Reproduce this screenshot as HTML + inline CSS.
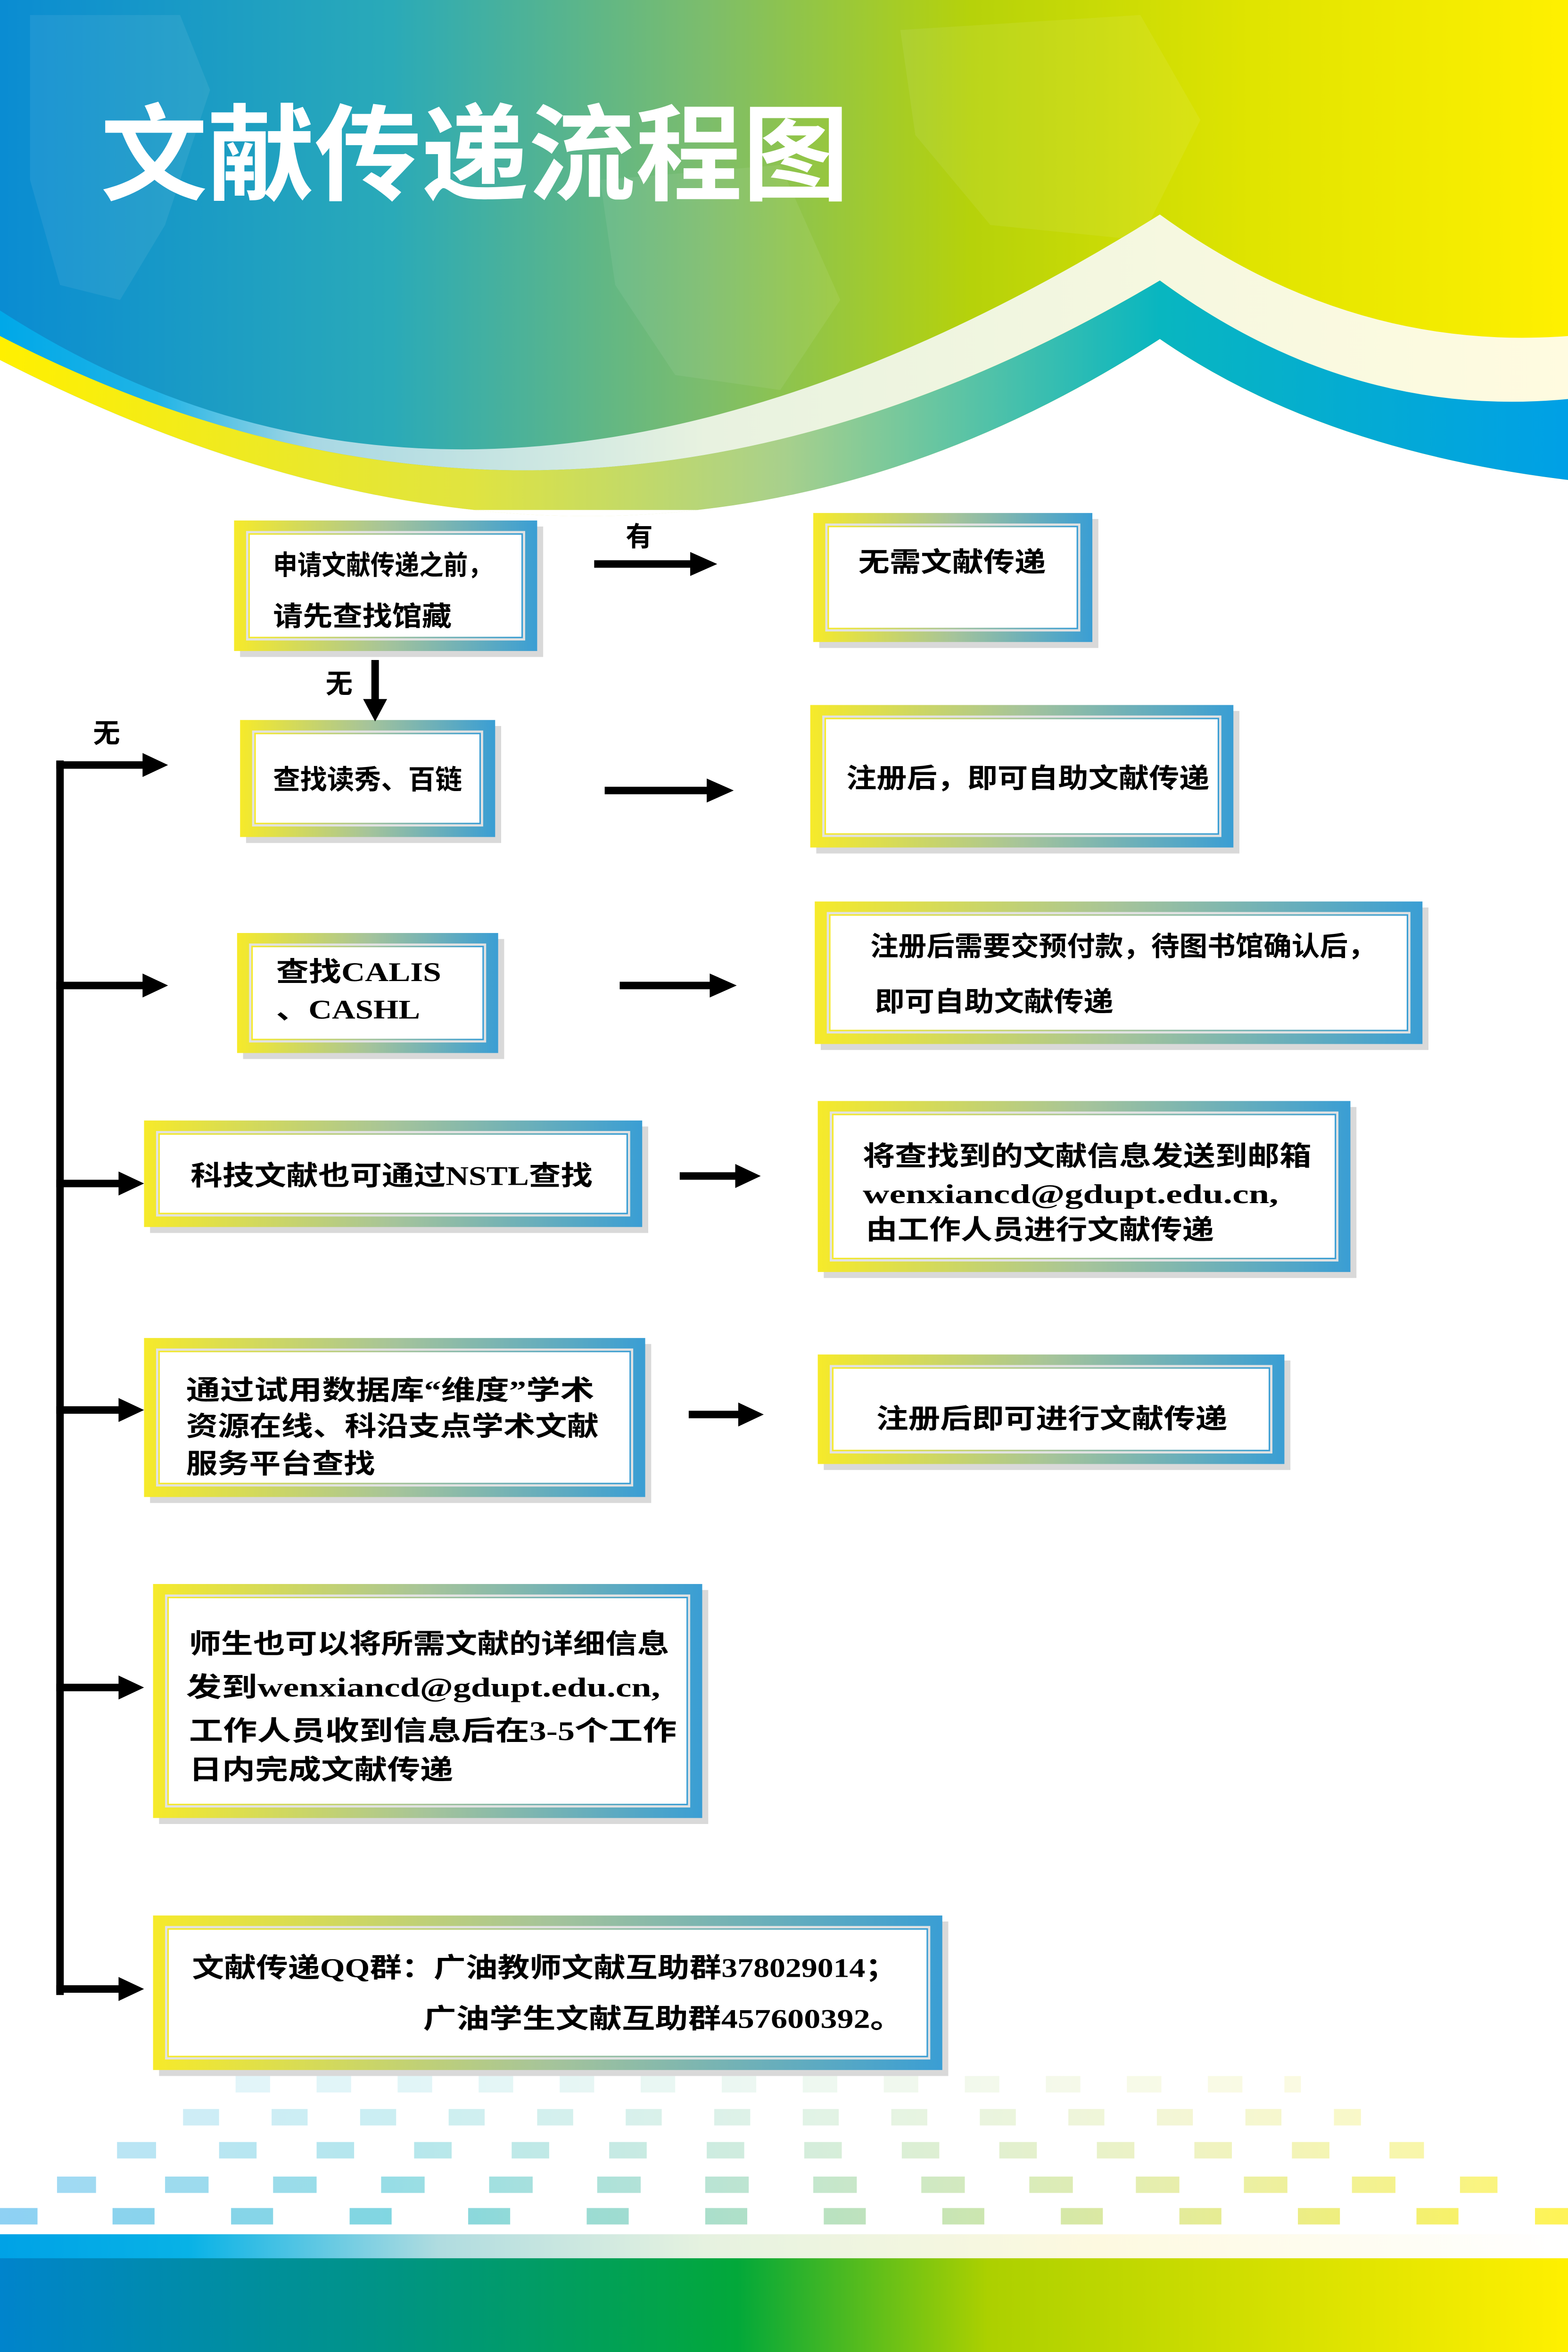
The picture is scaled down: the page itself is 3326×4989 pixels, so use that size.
<!DOCTYPE html>
<html><head><meta charset="utf-8"><style>
html,body{margin:0;padding:0;background:#fff;}
svg{display:block;}
text{font-family:"Liberation Serif","Noto Sans CJK SC",serif;font-weight:bold;fill:#000;}
</style></head><body>
<svg width="3326" height="4989" viewBox="0 0 1045 1568" preserveAspectRatio="none" xmlns="http://www.w3.org/2000/svg">
<defs>
<linearGradient id="hd" x1="0" y1="0" x2="1" y2="0">
<stop offset="0" stop-color="#0a8cd2"/><stop offset="0.25" stop-color="#2aaab8"/><stop offset="0.45" stop-color="#7cbd6c"/><stop offset="0.62" stop-color="#b6d20a"/><stop offset="0.8" stop-color="#e0e400"/><stop offset="1" stop-color="#fff000"/>
</linearGradient>
<linearGradient id="band1" x1="0" y1="0" x2="1" y2="0">
<stop offset="0" stop-color="#00a8e8"/><stop offset="0.1" stop-color="#20b4e6"/><stop offset="0.2" stop-color="#a8d8e4"/><stop offset="0.45" stop-color="#e8f2e0"/><stop offset="0.75" stop-color="#f6f8e0"/><stop offset="1" stop-color="#fffbe0"/>
</linearGradient>
<linearGradient id="band2" x1="0" y1="0" x2="1" y2="0">
<stop offset="0" stop-color="#fff000"/><stop offset="0.3" stop-color="#e0e440"/><stop offset="0.5" stop-color="#a8d08c"/><stop offset="0.74" stop-color="#08b6c0"/><stop offset="1" stop-color="#00a0e6"/>
</linearGradient>
<linearGradient id="fr" x1="0" y1="0" x2="1" y2="0">
<stop offset="0" stop-color="#f6ea2a"/><stop offset="0.5" stop-color="#a6c49a"/><stop offset="1" stop-color="#3a9ed4"/>
</linearGradient>
<linearGradient id="sq" x1="0" y1="0" x2="1" y2="0">
<stop offset="0" stop-color="#7ccaf2"/><stop offset="0.25" stop-color="#6cd0dc"/><stop offset="0.5" stop-color="#a8dcbc"/><stop offset="0.75" stop-color="#dfe88a"/><stop offset="1" stop-color="#fff23a"/>
</linearGradient>
<linearGradient id="lt" x1="0" y1="0" x2="1" y2="0">
<stop offset="0" stop-color="#00a2e6"/><stop offset="0.12" stop-color="#08b2e6"/><stop offset="0.28" stop-color="#b0dce0"/><stop offset="0.45" stop-color="#e6f2e0"/><stop offset="0.7" stop-color="#fdf9e0"/><stop offset="1" stop-color="#ffffff"/>
</linearGradient>
<linearGradient id="dk" x1="0" y1="0" x2="1" y2="0">
<stop offset="0" stop-color="#0084cc"/><stop offset="0.25" stop-color="#009484"/><stop offset="0.47" stop-color="#02a83a"/><stop offset="0.63" stop-color="#acd000"/><stop offset="1" stop-color="#fff000"/>
</linearGradient>
</defs>

<!-- header -->
<rect x="0" y="0" width="1045" height="330" fill="url(#hd)"/>
<g fill="#ffffff" opacity="0.07">
<path d="M20,10 L120,10 L140,60 L110,150 L80,200 L40,190 L20,120Z"/>
<path d="M400,120 L520,110 L560,200 L520,260 L450,250 L410,190Z"/>
<path d="M600,20 L760,10 L800,80 L760,160 L660,150 L610,90Z"/>
</g>
<!-- bands -->
<path d="M0,207 Q330,420 773,143 Q900,235 1045,224 L1045,270 Q900,280 773,187 Q380,420 0,224Z" fill="url(#band1)"/>
<path d="M0,224 Q380,420 773,187 Q900,280 1045,266 L1045,320 Q880,300 773,226 Q420,455 0,240Z" fill="url(#band2)"/>
<path d="M0,240 Q420,455 773,226 Q880,300 1045,320 L1045,340 L0,340Z" fill="#fff"/>
<text x="67" y="128" font-size="70" textLength="499" lengthAdjust="spacingAndGlyphs" style="fill:#fff;font-family:'Liberation Sans','Noto Sans CJK SC',sans-serif">文献传递流程图</text>

<!-- boxes -->
<g id="boxes">
<rect x="160" y="351" width="202" height="87" fill="#d9d9d9"/><rect x="156" y="347" width="202" height="87" fill="url(#fr)"/><rect x="164" y="354" width="186" height="73" fill="#e2e2e2"/><rect x="166" y="356" width="182" height="69" fill="#fff" stroke="url(#fr)" stroke-width="1"/>
<rect x="546" y="346" width="186" height="86" fill="#d9d9d9"/><rect x="542" y="342" width="186" height="86" fill="url(#fr)"/><rect x="550" y="349" width="170" height="72" fill="#e2e2e2"/><rect x="552" y="351" width="166" height="68" fill="#fff" stroke="url(#fr)" stroke-width="1"/>
<rect x="164" y="484" width="170" height="78" fill="#d9d9d9"/><rect x="160" y="480" width="170" height="78" fill="url(#fr)"/><rect x="168" y="487" width="154" height="64" fill="#e2e2e2"/><rect x="170" y="489" width="150" height="60" fill="#fff" stroke="url(#fr)" stroke-width="1"/>
<rect x="544" y="474" width="282" height="95" fill="#d9d9d9"/><rect x="540" y="470" width="282" height="95" fill="url(#fr)"/><rect x="548" y="477" width="266" height="81" fill="#e2e2e2"/><rect x="550" y="479" width="262" height="77" fill="#fff" stroke="url(#fr)" stroke-width="1"/>
<rect x="162" y="626" width="174" height="80" fill="#d9d9d9"/><rect x="158" y="622" width="174" height="80" fill="url(#fr)"/><rect x="166" y="629" width="158" height="66" fill="#e2e2e2"/><rect x="168" y="631" width="154" height="62" fill="#fff" stroke="url(#fr)" stroke-width="1"/>
<rect x="547" y="605" width="405" height="95" fill="#d9d9d9"/><rect x="543" y="601" width="405" height="95" fill="url(#fr)"/><rect x="551" y="608" width="389" height="81" fill="#e2e2e2"/><rect x="553" y="610" width="385" height="77" fill="#fff" stroke="url(#fr)" stroke-width="1"/>
<rect x="100" y="751" width="332" height="71" fill="#d9d9d9"/><rect x="96" y="747" width="332" height="71" fill="url(#fr)"/><rect x="104" y="754" width="316" height="57" fill="#e2e2e2"/><rect x="106" y="756" width="312" height="53" fill="#fff" stroke="url(#fr)" stroke-width="1"/>
<rect x="549" y="738" width="355" height="114" fill="#d9d9d9"/><rect x="545" y="734" width="355" height="114" fill="url(#fr)"/><rect x="553" y="741" width="339" height="100" fill="#e2e2e2"/><rect x="555" y="743" width="335" height="96" fill="#fff" stroke="url(#fr)" stroke-width="1"/>
<rect x="100" y="896" width="334" height="106" fill="#d9d9d9"/><rect x="96" y="892" width="334" height="106" fill="url(#fr)"/><rect x="104" y="899" width="318" height="92" fill="#e2e2e2"/><rect x="106" y="901" width="314" height="88" fill="#fff" stroke="url(#fr)" stroke-width="1"/>
<rect x="549" y="907" width="311" height="73" fill="#d9d9d9"/><rect x="545" y="903" width="311" height="73" fill="url(#fr)"/><rect x="553" y="910" width="295" height="59" fill="#e2e2e2"/><rect x="555" y="912" width="291" height="55" fill="#fff" stroke="url(#fr)" stroke-width="1"/>
<rect x="106" y="1060" width="366" height="156" fill="#d9d9d9"/><rect x="102" y="1056" width="366" height="156" fill="url(#fr)"/><rect x="110" y="1063" width="350" height="142" fill="#e2e2e2"/><rect x="112" y="1065" width="346" height="138" fill="#fff" stroke="url(#fr)" stroke-width="1"/>
<rect x="106" y="1281" width="526" height="103" fill="#d9d9d9"/><rect x="102" y="1277" width="526" height="103" fill="url(#fr)"/><rect x="110" y="1284" width="510" height="89" fill="#e2e2e2"/><rect x="112" y="1286" width="506" height="85" fill="#fff" stroke="url(#fr)" stroke-width="1"/>
</g>

<!-- texts -->
<g font-size="18">
<text x="182" y="383" textLength="146" lengthAdjust="spacingAndGlyphs">申请文献传递之前，</text>
<text x="182" y="417" textLength="119" lengthAdjust="spacingAndGlyphs">请先查找馆藏</text>
<text x="572" y="381" textLength="125" lengthAdjust="spacingAndGlyphs">无需文献传递</text>
<text x="182" y="526" textLength="126" lengthAdjust="spacingAndGlyphs">查找读秀、百链</text>
<text x="564" y="525" textLength="242" lengthAdjust="spacingAndGlyphs">注册后，即可自助文献传递</text>
<text x="184" y="654" textLength="110" lengthAdjust="spacingAndGlyphs">查找CALIS</text>
<text x="184" y="679" textLength="96" lengthAdjust="spacingAndGlyphs">、CASHL</text>
<text x="580" y="637" textLength="337" lengthAdjust="spacingAndGlyphs">注册后需要交预付款，待图书馆确认后，</text>
<text x="583" y="674" textLength="159" lengthAdjust="spacingAndGlyphs">即可自助文献传递</text>
<text x="127" y="790" textLength="268" lengthAdjust="spacingAndGlyphs">科技文献也可通过NSTL查找</text>
<text x="575" y="777" textLength="299" lengthAdjust="spacingAndGlyphs">将查找到的文献信息发送到邮箱</text>
<text x="575" y="802" textLength="277" lengthAdjust="spacingAndGlyphs">wenxiancd@gdupt.edu.cn,</text>
<text x="577" y="826" textLength="232" lengthAdjust="spacingAndGlyphs">由工作人员进行文献传递</text>
<text x="124" y="933" textLength="272" lengthAdjust="spacingAndGlyphs">通过试用数据库“维度”学术</text>
<text x="124" y="957" textLength="275" lengthAdjust="spacingAndGlyphs">资源在线、科沿支点学术文献</text>
<text x="124" y="982" textLength="126" lengthAdjust="spacingAndGlyphs">服务平台查找</text>
<text x="584" y="952" textLength="234" lengthAdjust="spacingAndGlyphs">注册后即可进行文献传递</text>
<text x="126" y="1102" textLength="320" lengthAdjust="spacingAndGlyphs">师生也可以将所需文献的详细信息</text>
<text x="124" y="1131" textLength="316" lengthAdjust="spacingAndGlyphs">发到wenxiancd@gdupt.edu.cn,</text>
<text x="126" y="1160" textLength="325" lengthAdjust="spacingAndGlyphs">工作人员收到信息后在3-5个工作</text>
<text x="126" y="1186" textLength="176" lengthAdjust="spacingAndGlyphs">日内完成文献传递</text>
<text x="128" y="1318" textLength="470" lengthAdjust="spacingAndGlyphs">文献传递QQ群：广油教师文献互助群378029014；</text>
<text x="282" y="1352" textLength="320" lengthAdjust="spacingAndGlyphs">广油学生文献互助群457600392。</text>
<text x="417" y="364">有</text>
<text x="217" y="462">无</text>
<text x="62" y="495">无</text>
</g>

<!-- arrows -->
<g fill="#000">
<rect x="396" y="373.5" width="66" height="5"/><polygon points="460,368 478,376 460,384"/>
<rect x="247.5" y="440" width="5" height="28"/><polygon points="242,466 250,481 258,466"/>
<rect x="403" y="524.5" width="70" height="5"/><polygon points="471,519 489,527 471,535"/>
<rect x="413" y="654.5" width="62" height="5"/><polygon points="473,649 491,657 473,665"/>
<rect x="453" y="781.5" width="40" height="5"/><polygon points="490,776 507,784 490,792"/>
<rect x="459" y="940.5" width="36" height="5"/><polygon points="492,935 509,943 492,951"/>
<rect x="37.5" y="507" width="5" height="823"/>
<rect x="37.5" y="507.5" width="60" height="5"/><polygon points="95,502 112,510 95,518"/>
<rect x="37.5" y="654.5" width="60" height="5"/><polygon points="95,649 112,657 95,665"/>
<rect x="37.5" y="786.5" width="44" height="5"/><polygon points="79,781 96,789 79,797"/>
<rect x="37.5" y="937.5" width="44" height="5"/><polygon points="79,932 96,940 79,948"/>
<rect x="37.5" y="1122.5" width="44" height="5"/><polygon points="79,1117 96,1125 79,1133"/>
<rect x="37.5" y="1323.5" width="44" height="5"/><polygon points="79,1318 96,1326 79,1334"/>
</g>

<mask id="m1"><g fill="#fff">
<rect x="157" y="1384" width="23" height="11"/><rect x="211" y="1384" width="23" height="11"/><rect x="265" y="1384" width="23" height="11"/><rect x="319" y="1384" width="23" height="11"/><rect x="373" y="1384" width="23" height="11"/><rect x="427" y="1384" width="23" height="11"/><rect x="481" y="1384" width="23" height="11"/><rect x="535" y="1384" width="23" height="11"/><rect x="589" y="1384" width="23" height="11"/><rect x="643" y="1384" width="23" height="11"/><rect x="697" y="1384" width="23" height="11"/><rect x="751" y="1384" width="23" height="11"/><rect x="805" y="1384" width="23" height="11"/><rect x="856" y="1384" width="11" height="11"/>
</g></mask>
<mask id="m2"><g fill="#fff">
<rect x="122" y="1406" width="24" height="11"/><rect x="181" y="1406" width="24" height="11"/><rect x="240" y="1406" width="24" height="11"/><rect x="299" y="1406" width="24" height="11"/><rect x="358" y="1406" width="24" height="11"/><rect x="417" y="1406" width="24" height="11"/><rect x="476" y="1406" width="24" height="11"/><rect x="535" y="1406" width="24" height="11"/><rect x="594" y="1406" width="24" height="11"/><rect x="653" y="1406" width="24" height="11"/><rect x="712" y="1406" width="24" height="11"/><rect x="771" y="1406" width="24" height="11"/><rect x="830" y="1406" width="24" height="11"/><rect x="889" y="1406" width="18" height="11"/>
</g></mask>
<mask id="m3"><g fill="#fff">
<rect x="78" y="1428" width="26" height="11"/><rect x="146" y="1428" width="25" height="11"/><rect x="211" y="1428" width="25" height="11"/><rect x="276" y="1428" width="25" height="11"/><rect x="341" y="1428" width="25" height="11"/><rect x="406" y="1428" width="25" height="11"/><rect x="471" y="1428" width="25" height="11"/><rect x="536" y="1428" width="25" height="11"/><rect x="601" y="1428" width="25" height="11"/><rect x="666" y="1428" width="25" height="11"/><rect x="731" y="1428" width="25" height="11"/><rect x="796" y="1428" width="25" height="11"/><rect x="861" y="1428" width="25" height="11"/><rect x="926" y="1428" width="23" height="11"/>
</g></mask>
<mask id="m4"><g fill="#fff">
<rect x="38" y="1451" width="26" height="11"/><rect x="110" y="1451" width="29" height="11"/><rect x="182" y="1451" width="29" height="11"/><rect x="254" y="1451" width="29" height="11"/><rect x="326" y="1451" width="29" height="11"/><rect x="398" y="1451" width="29" height="11"/><rect x="470" y="1451" width="29" height="11"/><rect x="542" y="1451" width="29" height="11"/><rect x="614" y="1451" width="29" height="11"/><rect x="686" y="1451" width="29" height="11"/><rect x="757" y="1451" width="29" height="11"/><rect x="829" y="1451" width="29" height="11"/><rect x="901" y="1451" width="29" height="11"/><rect x="973" y="1451" width="25" height="11"/>
</g></mask>
<mask id="m5"><g fill="#fff">
<rect x="0" y="1472" width="25" height="11"/><rect x="75" y="1472" width="28" height="11"/><rect x="154" y="1472" width="28" height="11"/><rect x="233" y="1472" width="28" height="11"/><rect x="312" y="1472" width="28" height="11"/><rect x="391" y="1472" width="28" height="11"/><rect x="470" y="1472" width="28" height="11"/><rect x="549" y="1472" width="28" height="11"/><rect x="628" y="1472" width="28" height="11"/><rect x="707" y="1472" width="28" height="11"/><rect x="786" y="1472" width="28" height="11"/><rect x="865" y="1472" width="28" height="11"/><rect x="944" y="1472" width="28" height="11"/><rect x="1023" y="1472" width="22" height="11"/>
</g></mask>
<rect x="0" y="1384" width="1045" height="11" fill="url(#sq)" mask="url(#m1)" opacity="0.2"/>
<rect x="0" y="1406" width="1045" height="11" fill="url(#sq)" mask="url(#m2)" opacity="0.35"/>
<rect x="0" y="1428" width="1045" height="11" fill="url(#sq)" mask="url(#m3)" opacity="0.5"/>
<rect x="0" y="1451" width="1045" height="11" fill="url(#sq)" mask="url(#m4)" opacity="0.7"/>
<rect x="0" y="1472" width="1045" height="11" fill="url(#sq)" mask="url(#m5)" opacity="0.85"/>

<rect x="0" y="1489.5" width="1045" height="16.5" fill="url(#lt)"/>
<rect x="0" y="1505.5" width="1045" height="62.5" fill="url(#dk)"/>
</svg>
</body></html>
